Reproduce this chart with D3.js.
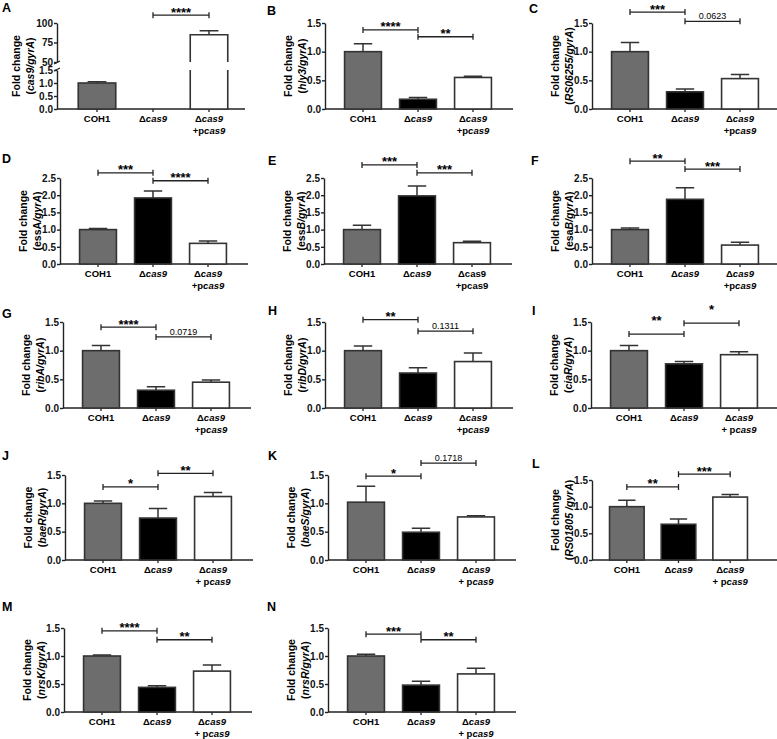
<!DOCTYPE html>
<html><head><meta charset="utf-8">
<script src="https://cdn.jsdelivr.net/npm/d3@7"></script>
<style>body{margin:0;background:#fff} svg{font-family:"Liberation Sans",Arial,sans-serif}</style>
</head><body><svg id="c" width="777" height="739"></svg>
<script>
// ---------------- DATA ----------------
const panelIds = ["A","B","C","D","E","F","G","H","I","J","K","L","M","N"];
const categories = ["COH1","Δcas9","Δcas9+pcas9"];
const coh1Mean = [1.0,1.0,1.0,1.0,1.0,1.0,1.0,1.0,1.0,1.0,1.02,1.0,1.0,1.0];
const coh1Sem  = [0.05,0.14,0.16,0.03,0.13,0.05,0.09,0.08,0.09,0.04,0.28,0.12,0.02,0.03];
const cas9Mean = [0.0,0.17,0.30,1.92,1.98,1.88,0.31,0.61,0.77,0.74,0.49,0.67,0.44,0.48];
const cas9Sem  = [0,0.03,0.05,0.20,0.29,0.34,0.06,0.09,0.04,0.17,0.07,0.10,0.03,0.07];
const compMean = [85,0.55,0.53,0.60,0.62,0.55,0.45,0.81,0.93,1.12,0.76,1.18,0.73,0.68];
const compSem  = [5,0.02,0.07,0.07,0.04,0.08,0.04,0.15,0.05,0.07,0.02,0.05,0.11,0.10];
const sigCohVsCas9  = [null,"****","***","***","***","**","****","**","**","*","*","**","****","***"];
const sigCas9VsComp = ["****","**","0.0623","****","***","***","0.0719","0.1311","*","**","0.1718","***","**","**"];
const yTicks15 = [0,0.5,1.0,1.5];
const yTicks25 = [0,0.5,1.0,1.5,2.0,2.5];
const yTicksBreak = [50,75,100];
// y-axis title second line: [text, italic]
const titles = [
 [["(",0],["cas9/gyrA",1],[")",0]],
 [["(",0],["hly3/gyrA",1],[")",0]],
 [["(",0],["RS06255/gyrA",1],[")",0]],
 [["(essA",0],["/gyrA",1],[")",0]],
 [["(ess",0],["B/gyrA",1],[")",0]],
 [["(esa",0],["B/gyrA",1],[")",0]],
 [["(",0],["ribA/gyrA",1],[")",0]],
 [["(",0],["ribD/gyrA",1],[")",0]],
 [["(",0],["ciaR/gyrA",1],[")",0]],
 [["(",0],["baeR/gyrA",1],[")",0]],
 [["(",0],["baeS/gyrA",1],[")",0]],
 [["(",0],["RS01805 /gyrA",1],[")",0]],
 [["(",0],["nrsK/gyrA",1],[")",0]],
 [["(",0],["nrsR/gyrA",1],[")",0]]
];

// ---------------- LAYOUT ----------------
const layout = {
 A:{ax:57, y0:109,yt:70, max:1.5,ticks:yTicks15,lx:2,  ly:12, lv:[null,110], xr:[12,180], brk:{y0:62,yt:23,min:50,max:100}, tx:-4},
 B:{ax:325,y0:109,yt:23, max:1.5,ticks:yTicks15,lx:267,ly:15, lv:[1.38,1.26]},
 C:{ax:592,y0:109,yt:23, max:1.5,ticks:yTicks15,lx:529,ly:13, lv:[1.69,1.53]},
 D:{ax:60, y0:264,yt:178,max:2.5,ticks:yTicks25,lx:2,  ly:163,lv:[2.65,2.42]},
 E:{ax:324,y0:264,yt:178,max:2.5,ticks:yTicks25,lx:268,ly:165,lv:[2.88,2.65], upright:true},
 F:{ax:592,y0:264,yt:178,max:2.5,ticks:yTicks25,lx:531,ly:165,lv:[2.99,2.76]},
 G:{ax:63, y0:408,yt:322,max:1.5,ticks:yTicks15,lx:2,  ly:318,lv:[1.41,1.24]},
 H:{ax:325,y0:408,yt:322,max:1.5,ticks:yTicks15,lx:268,ly:315,lv:[1.54,1.34]},
 I:{ax:591,y0:408,yt:322,max:1.5,ticks:yTicks15,lx:532,ly:315,lv:[1.29,1.48], lift:11, space:true},
 J:{ax:65, y0:560,yt:475,max:1.5,ticks:yTicks15,lx:2,  ly:460,lv:[1.29,1.53], space:true},
 K:{ax:328,y0:560,yt:475,max:1.5,ticks:yTicks15,lx:268,ly:460,lv:[1.48,1.71], space:true},
 L:{ax:592,y0:560,yt:480,max:1.5,ticks:yTicks15,lx:532,ly:468,lv:[1.37,1.61], space:true, xr:[9,164]},
 M:{ax:64, y0:712,yt:628,max:1.5,ticks:yTicks15,lx:2,  ly:611,lv:[1.45,1.29], space:true},
 N:{ax:328,y0:712,yt:628,max:1.5,ticks:yTicks15,lx:267,ly:611,lv:[1.39,1.29], space:true}
};
const fills = ["#6d6d6d","#000000","#ffffff"];
const STROKE = "#333";

const svg = d3.select("#c");
svg.append("rect").attr("width",777).attr("height",739).attr("fill","#fff");

function rich(sel, parts){
  parts.forEach(([t,it]) => sel.append("tspan").text(t).attr("font-style", it ? "italic":"normal"));
}

panelIds.forEach((id, i) => {
  const P = layout[id];
  const g = svg.append("g");
  const means = [coh1Mean[i], cas9Mean[i], compMean[i]];
  const sems  = [coh1Sem[i],  cas9Sem[i],  compSem[i]];
  const xr = P.xr || [10.5,175.5];
  const x = d3.scaleBand().domain(categories).range([P.ax+xr[0], P.ax+xr[1]]).paddingInner(0.33).paddingOuter(0.165);
  const y = d3.scaleLinear().domain([0,P.max]).range([P.y0,P.yt]);
  const yU = P.brk ? d3.scaleLinear().domain([P.brk.min,P.brk.max]).range([P.brk.y0,P.brk.yt]) : null;
  const bw = x.bandwidth();

  // panel letter
  g.append("text").attr("x",P.lx).attr("y",P.ly).attr("font-size",12.5).attr("font-weight","bold").text(id);

  // y axes
  g.append("g").attr("transform",`translate(${P.ax},0)`)
    .call(d3.axisLeft(y).tickValues(P.ticks).tickFormat(d3.format(".1f")).tickSize(3).tickPadding(1).tickSizeOuter(0));
  if (yU) {
    g.append("g").attr("transform",`translate(${P.ax},0)`)
      .call(d3.axisLeft(yU).tickValues(yTicksBreak).tickFormat(d3.format("d")).tickSize(3).tickPadding(1).tickSizeOuter(0));
    g.append("path").attr("d",`M${P.ax-3},${P.brk.y0+2}L${P.ax+3},${P.brk.y0-1}M${P.ax-3},${P.yt+1}L${P.ax+3},${P.yt-2}`)
      .attr("stroke","#222").attr("stroke-width",1.3).attr("fill","none");
  }
  g.selectAll(".domain").attr("stroke","#222").attr("stroke-width",1.4);
  g.selectAll(".tick line").attr("stroke","#222").attr("stroke-width",1.4);
  g.selectAll(".tick text").attr("font-size",10).attr("font-weight","bold").attr("fill","#111")
    .attr("font-family",'"Liberation Sans",Arial,sans-serif');

  // x axis
  const xa = g.append("g").attr("transform",`translate(0,${P.y0})`)
    .call(d3.axisBottom(x).tickSize(3).tickFormat(""));
  xa.select(".domain").remove();
  xa.selectAll(".tick line").attr("stroke","#222").attr("stroke-width",1.3);
  g.append("line").attr("x1",P.ax).attr("x2",P.ax+188).attr("y1",P.y0).attr("y2",P.y0)
    .attr("stroke","#222").attr("stroke-width",1.4);

  // y title
  const tx = P.tx || 0;
  const cy = yU ? (P.y0 + P.brk.yt)/2 : (P.y0+P.yt)/2;
  g.append("text").attr("transform",`translate(${P.ax-33+tx},${cy}) rotate(-90)`).attr("text-anchor","middle")
    .attr("font-size",10.5).attr("font-weight","bold").text("Fold change");
  rich(g.append("text").attr("transform",`translate(${P.ax-19+tx},${cy}) rotate(-90)`).attr("text-anchor","middle")
    .attr("font-size",10.5).attr("font-weight","bold"), titles[i]);

  // x labels
  const lab = (cx, yy, parts) => rich(g.append("text").attr("x",cx).attr("y",yy).attr("text-anchor","middle")
     .attr("font-size",9.5).attr("font-weight","bold"), parts);
  const it = P.upright ? 0 : 1;
  lab(x(categories[0])+bw/2, P.y0+13, [["COH1",0]]);
  lab(x(categories[1])+bw/2, P.y0+13, [["Δ",0],["cas9",1]]);
  lab(x(categories[2])+bw/2, P.y0+13, [["Δ",0],["cas9",it]]);
  lab(x(categories[2])+bw/2, P.y0+24.5, [[P.space ? "+ p" : "+p",0],["cas9",it]]);

  // bars
  categories.forEach((c, k) => {
    const m = means[k], s = sems[k];
    const x0 = x(c);
    if (yU && m > P.max) {
      g.append("path").attr("d",`M${x0},${y(P.max)}V${y(0)}H${x0+bw}V${y(P.max)}`)
        .attr("fill",fills[k]).attr("stroke",STROKE).attr("stroke-width",1.6);
      g.append("path").attr("d",`M${x0},${yU(P.brk.min)}V${yU(m)}H${x0+bw}V${yU(P.brk.min)}`)
        .attr("fill",fills[k]).attr("stroke",STROKE).attr("stroke-width",1.6);
      const cx = x0+bw/2;
      g.append("path").attr("d",`M${cx},${yU(m)}V${yU(m+s)}M${cx-bw*0.25},${yU(m+s)}H${cx+bw*0.25}`)
        .attr("stroke",STROKE).attr("stroke-width",1.5).attr("fill","none");
      return;
    }
    if (m <= 0) return;
    g.append("rect").attr("x",x0).attr("y",y(m)).attr("width",bw).attr("height",y(0)-y(m))
      .attr("fill",fills[k]).attr("stroke",STROKE).attr("stroke-width",1.6);
    const cx = x0+bw/2;
    g.append("path").attr("d",`M${cx},${y(m)}V${y(m+s)}M${cx-bw*0.25},${y(m+s)}H${cx+bw*0.25}`)
      .attr("stroke",STROKE).attr("stroke-width",1.5).attr("fill","none");
  });

  // significance brackets
  const sigs = [[sigCohVsCas9[i],0,1,P.lv[0]],[sigCas9VsComp[i],1,2,P.lv[1]]];
  sigs.forEach(([txt,a,b,lv]) => {
    if (!txt) return;
    const yy = (yU && lv > P.max) ? yU(lv) : y(lv);
    const xa1 = x(categories[a])+bw/2, xb1 = x(categories[b])+bw/2;
    g.append("path").attr("d",`M${xa1},${yy}H${xb1}M${xa1},${yy-3}V${yy+3}M${xb1},${yy-3}V${yy+3}`)
      .attr("stroke","#222").attr("stroke-width",1.3).attr("fill","none");
    const stars = txt.startsWith("*");
    const lift = P.lift || 0;
    g.append("text").attr("x",(xa1+xb1)/2).attr("y", stars ? yy+1.5-lift : yy-2-lift).attr("text-anchor","middle")
      .attr("font-size", stars ? 13 : 9).attr("font-weight", stars ? "bold":"normal").text(txt);
  });
});
</script></body></html>
